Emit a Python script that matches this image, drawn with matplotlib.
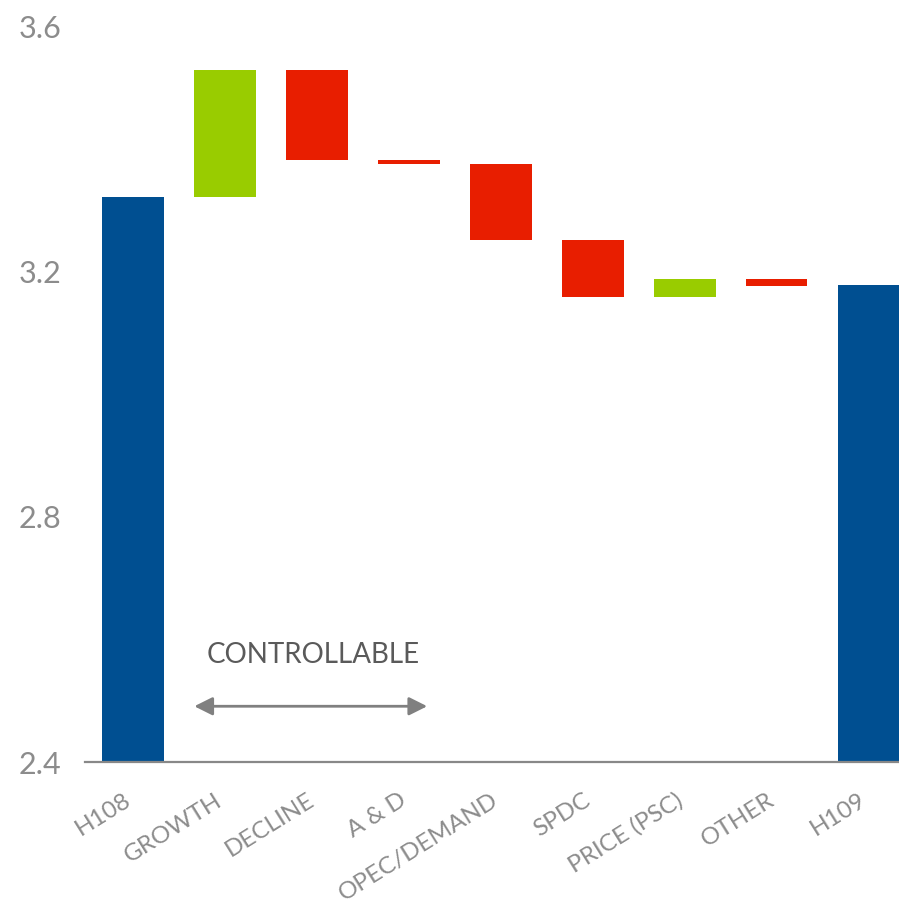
import matplotlib
matplotlib.use("Agg")
import matplotlib.pyplot as plt
import matplotlib.transforms as mtransforms
import numpy as np

plt.rcParams['font.family'] = ['Lato', 'DejaVu Sans']

categories = ["H108", "GROWTH", "DECLINE", "A & D", "OPEC/DEMAND",
              "SPDC", "PRICE (PSC)", "OTHER", "H109"]
start_value = 3.322
deltas = [0.208, -0.148, -0.005, -0.124, -0.094, 0.029, -0.011]
end_value = 3.178
y_ticks = [2.4, 2.8, 3.2, 3.6]
y_tick_labels = ["2.4", "2.8", "3.2", "3.6"]
annotation_text = "CONTROLLABLE"

BLUE = "#004f91"
GREEN = "#99cc00"
RED = "#e81e00"

fig = plt.figure(figsize=(8.99, 9.14), dpi=100)
ax = fig.add_axes([0.0946, 0.1663, 1 - 0.0946, 0.9705 - 0.1663])

base = 2.4
width = 0.67
x = np.arange(len(categories))

# totals
ax.bar(x[0], start_value - base, bottom=base, width=width, color=BLUE)
ax.bar(x[-1], end_value - base, bottom=base, width=width, color=BLUE)

cum = start_value
for i, d in enumerate(deltas, start=1):
    if d >= 0:
        ax.bar(x[i], d, bottom=cum, width=width, color=GREEN)
    else:
        ax.bar(x[i], -d, bottom=cum + d, width=width, color=RED)
    cum += d

ax.set_ylim(2.4, 3.6)
ax.set_xlim(-0.52, 8.33)

for s in ["top", "right", "left"]:
    ax.spines[s].set_visible(False)
ax.spines["bottom"].set_color("#888888")
ax.spines["bottom"].set_linewidth(1.6)

ax.set_yticks(y_ticks)
ax.set_yticklabels(y_tick_labels)
ax.tick_params(axis="y", length=0, pad=17, labelsize=22, labelcolor="#8c8c8c")

ax.set_xticks(x)
ax.set_xticklabels(categories)
ax.tick_params(axis="x", length=0, pad=20, labelsize=17.5, labelcolor="#8c8c8c")
offset = mtransforms.ScaledTranslation(-10 / 100, 0, fig.dpi_scale_trans)
for lab in ax.get_xticklabels():
    lab.set_rotation(32)
    lab.set_ha("right")
    lab.set_va("top")
    lab.set_rotation_mode("anchor")
    lab.set_transform(lab.get_transform() + offset)

ax.text(1.957, 2.575, annotation_text, ha="center", va="center",
        fontsize=20, color="#5a5a5a")
ax.annotate("", xy=(0.668, 2.491), xytext=(3.2, 2.491),
            arrowprops=dict(arrowstyle="<|-|>,head_length=1.1,head_width=0.55",
                            color="#808080", lw=2, shrinkA=0, shrinkB=0))

fig.savefig("out.png", dpi=100)
